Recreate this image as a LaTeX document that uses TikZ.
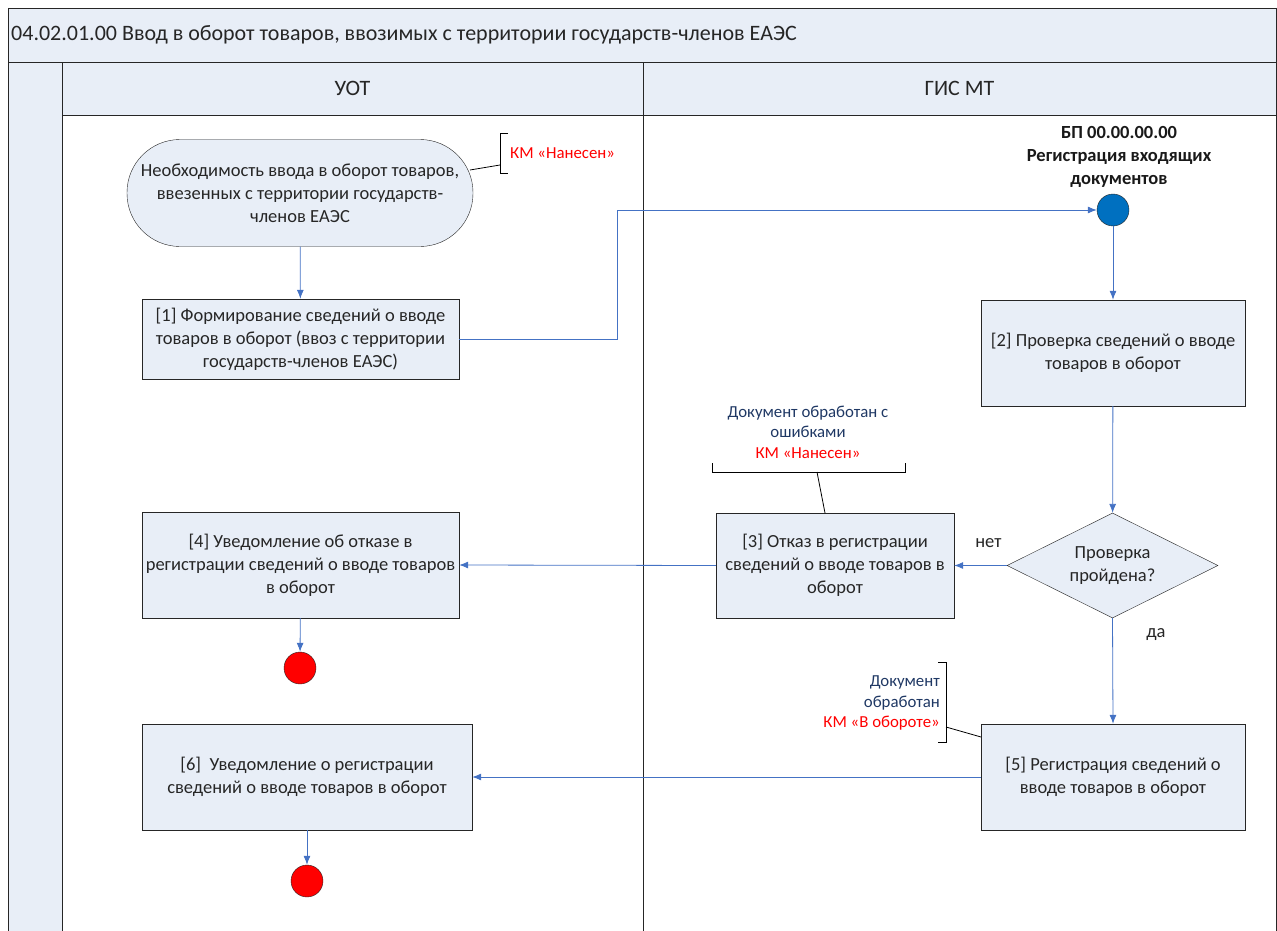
\documentclass[tikz,border=0pt]{standalone}
\usepackage{fontspec}
\setmainfont{Carlito}
\usetikzlibrary{shapes.geometric, arrows.meta}
\definecolor{lanefill}{HTML}{E8EEF7}
\definecolor{flowblue}{HTML}{4472C4}
\definecolor{bpblue}{HTML}{0070C0}
\definecolor{notenavy}{HTML}{1F3864}
\definecolor{boxline}{HTML}{262626}
\newcommand{\procfont}{\fontsize{18.5}{23}\selectfont}
\newcommand{\notefont}{\fontsize{16.8}{20.5}\selectfont}
\newcommand{\titlefont}{\fontsize{22}{26}\selectfont}

\begin{document}
\begin{tikzpicture}[x=1pt, y=-1pt, >={Latex[length=9pt, width=7pt]},
    proc/.style={draw=boxline, fill=lanefill, align=center, font=\procfont, text=black!85, inner sep=2pt},
    flow/.style={->, draw=flowblue, line width=0.8pt},
    endpt/.style={circle, draw=boxline, fill=red, minimum size=32pt, inner sep=0pt}]
        \useasboundingbox (0,0) rectangle (1277,931);
        % pool frame
        \draw[draw=boxline, fill=lanefill] (8,8) rectangle (1276,62);
        \node[anchor=west, font=\titlefont, text=black!85, inner sep=2pt] (title) at (9,35)
          {04.02.01.00 Ввод в оборот товаров, ввозимых с территории государств-членов ЕАЭС};
        \draw[draw=boxline, fill=lanefill] (8,62) rectangle (62,931);
        \node[draw=boxline, fill=lanefill, minimum width=581pt, minimum height=53pt, font=\titlefont, text=black!85]
          (UOT) at (352.5,88.5) {УОТ};
        \node[draw=boxline, fill=lanefill, minimum width=633pt, minimum height=53pt, font=\titlefont, text=black!85]
          (GIS) at (959.5,88.5) {ГИС МТ};
        \draw[draw=boxline] (8,8) -- (8,931);
        \draw[draw=boxline] (643,115) -- (643,931);
        \draw[draw=boxline] (1276,8) -- (1276,931);

        % lane UOT
        \node[proc, minimum width=346pt, minimum height=107pt, rounded corners=53pt]
          (START) at (300,193) {Необходимость ввода в оборот товаров,\\ввезенных с территории государств-\\членов ЕАЭС};
        \node[proc, minimum width=317pt, minimum height=80pt]
          (P1) at (300.5,339) {[1] Формирование сведений о вводе\\товаров в оборот (ввоз с территории\\государств-членов ЕАЭС)};
        \node[proc, minimum width=317pt, minimum height=106pt]
          (P4) at (300.5,565) {[4] Уведомление об отказе в\\регистрации сведений о вводе товаров\\в оборот};
        \node[endpt] (END1) at (300,668) {};
        \node[proc, minimum width=330pt, minimum height=106pt]
          (P6) at (307,777) {[6]\ \ Уведомление о регистрации\\сведений о вводе товаров в оборот};
        \node[endpt] (END2) at (307,881) {};

        % lane GIS MT
        \node[align=center, font=\bfseries\procfont, text=black!90] (BPLBL) at (1119,157)
          {БП 00.00.00.00\\Регистрация входящих\\документов};
        \node[circle, draw=boxline, fill=bpblue, minimum size=32pt, inner sep=0pt] (BP) at (1113,210) {};
        \node[proc, minimum width=264pt, minimum height=106pt]
          (P2) at (1113,353) {[2] Проверка сведений о вводе\\товаров в оборот};
        \node[proc, diamond, aspect=2, minimum width=211pt, minimum height=105pt, inner sep=0pt]
          (CHK) at (1112.5,565.5) {Проверка\\пройдена?};
        \node[proc, minimum width=238pt, minimum height=105pt]
          (P3) at (835,565.5) {[3] Отказ в регистрации\\сведений о вводе товаров в\\оборот};
        \node[proc, minimum width=264pt, minimum height=106pt]
          (P5) at (1113,777) {[5] Регистрация сведений о\\вводе товаров в оборот};

        % annotations
        \draw[draw=black, line width=0.8pt] (508,133) -- (500,133) -- (500,173) -- (508,173);
        \draw[draw=black, line width=0.8pt] (470,170) -- (500,165);
        \node[anchor=west, font=\notefont, text=red, inner sep=0pt] (NOTE0) at (510,153) {КМ «Нанесен»};

        \node[align=center, font=\notefont, text=notenavy] (NOTE3) at (808,432)
          {Документ обработан с\\ошибками\\\textcolor{red}{КМ «Нанесен»}};
        \draw[draw=black, line width=0.8pt] (712,463) -- (712,472) -- (905,472) -- (905,463);
        \draw[draw=black, line width=0.8pt] (817,472) -- (825,513);

        \node[align=right, anchor=east, font=\notefont, text=notenavy, inner sep=0pt] (NOTE5) at (940,703)
          {Документ\\обработан\\\textcolor{red}{КМ «В обороте»}};
        \draw[draw=black, line width=0.8pt] (938,662) -- (946,662) -- (946,742) -- (938,742);
        \draw[draw=black, line width=0.8pt] (946,727) -- (981,737);

        % flows
        \draw[flow] (START) -- (P1);
        \coordinate (TURN) at (617,210);
        \draw[flow] (P1.east) -| (TURN) -- (BP);
        \draw[flow] (BP) -- (P2);
        \draw[flow] (P2) -- (CHK);
        \draw[flow] (CHK.west) -- (P3.east) node[pos=0.35, above, yshift=14pt, font=\procfont, text=black!85] {нет};
        \draw[flow] (P3.west) -- (P4.east);
        \draw[flow] (P4) -- (END1);
        \draw[flow] (CHK.south) -- (P5.north) node[pos=0.15, right, xshift=30pt, font=\procfont, text=black!85] {да};
        \draw[flow] (P5.west) -- (P6.east);
        \draw[flow] (P6) -- (END2);
      \end{tikzpicture}
\end{document}
